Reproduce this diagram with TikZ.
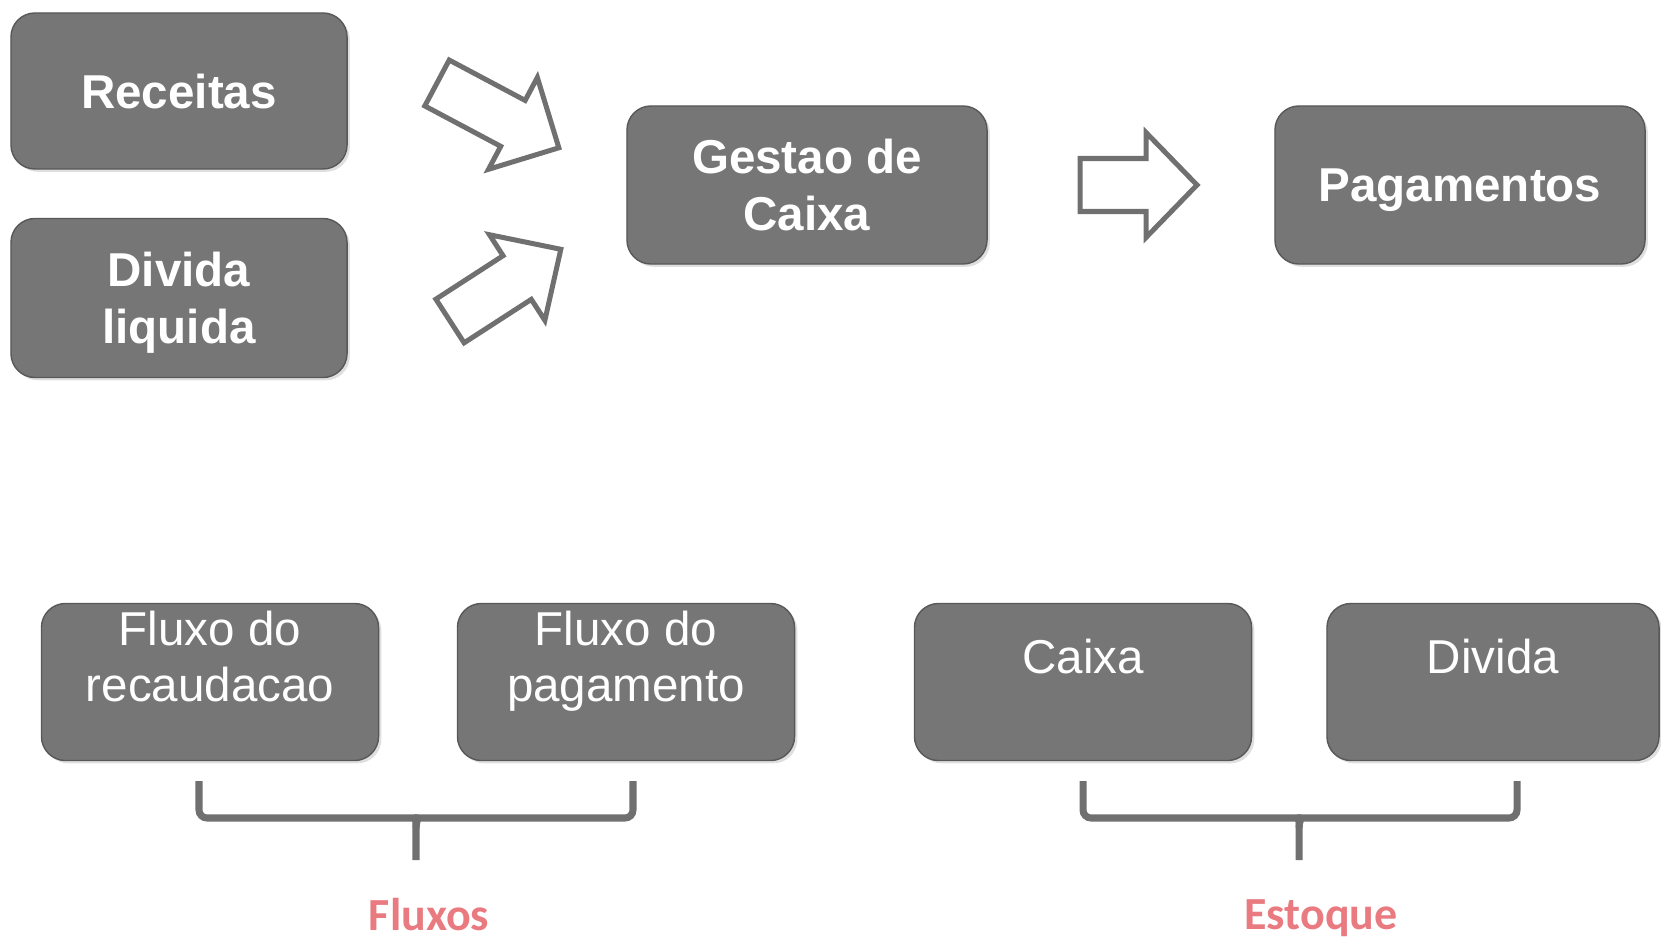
\documentclass[tikz,border=0pt]{standalone}
\usepackage{fontspec}
\setmainfont{Liberation Sans}
\newfontfamily\tagfont{Carlito}
\usetikzlibrary{shadows}

\definecolor{tilegray}{RGB}{118,118,118}
\definecolor{tileedge}{RGB}{88,88,88}
\definecolor{arrowgray}{RGB}{112,112,112}
\definecolor{bracegray}{RGB}{112,112,112}
\definecolor{rosetext}{RGB}{232,122,128}

\tikzset{
  tile/.style={rounded corners=0.6cm, fill=tilegray, draw=tileedge, line width=1pt,
    minimum width=8.4cm, minimum height=3.9cm, text=white, align=center, text depth=0pt,
    font=\fontsize{33.8}{40.5}\selectfont\bfseries,
    drop shadow={shadow xshift=2pt, shadow yshift=-2pt, opacity=0.25}},
  lowtile/.style={tile, minimum width=8.425cm, minimum height=3.925cm},
  tiletext/.style={text=white, align=center, text depth=0pt, font=\fontsize{33.8}{40}\selectfont},
  hollow/.style={draw=arrowgray, fill=white, line width=0.125cm, line join=miter},
  bracket/.style={draw=bracegray, line width=5pt, rounded corners=0.2cm},
  tag/.style={text=rosetext, anchor=base, inner sep=0pt, font=\tagfont\fontsize{32.7}{38}\selectfont\bfseries}
}

\begin{document}
\begin{tikzpicture}[x=0.025cm, y=-0.025cm]
\useasboundingbox (0,0) rectangle (1661,939);

% top row
\node[tile] (rec) at (179,91) {Receitas};
\node[tile, minimum height=3.975cm] (div) at (179,298) {Divida\\liquida};
\node[tile, minimum width=9cm, minimum height=3.95cm] (gest) at (807,185) {Gestao de\\Caixa};
\node[tile, minimum width=9.25cm, minimum height=3.95cm] (pag) at (1460,185) {Pagamentos};

% hollow arrows
\draw[hollow, shift={(437,83)}, rotate=-28]
  (0,-26) -- (86,-26) -- (86,-52) -- (138,0) -- (86,52) -- (86,26) -- (0,26) -- cycle;
\draw[hollow, shift={(450,321)}, rotate=32.9]
  (0,-26) -- (80,-26) -- (80,-51) -- (132,0) -- (80,51) -- (80,26) -- (0,26) -- cycle;
\draw[hollow, shift={(1080,185)}]
  (0,-26.5) -- (66,-26.5) -- (66,-52.5) -- (117,0) -- (66,52.5) -- (66,26.5) -- (0,26.5) -- cycle;

% bottom row
\node[lowtile] (frec) at (210,682) {};
\node[lowtile] (fpag) at (626,682) {};
\node[lowtile] (caixa) at (1083,682) {};
\node[lowtile, minimum width=8.3cm] (divb) at (1493,682) {};

\node[tiletext] (frec-txt) at (210,656) {Fluxo do\\recaudacao};
\node[tiletext] (fpag-txt) at (626,656) {Fluxo do\\pagamento};
\node[tiletext] (caixa-txt) at (1083,656) {Caixa};
\node[tiletext] (divb-txt) at (1493,656) {Divida};

% braces
\coordinate (fl-a) at (199,781);
\coordinate (fl-b) at (633,781);
\coordinate (fl-l) at (406,818);
\coordinate (fl-r) at (426,818);
\coordinate (fl-dip) at (416,828);
\coordinate (fl-end) at (416,860);
\coordinate (es-a) at (1083,781);
\coordinate (es-b) at (1517,781);
\coordinate (es-l) at (1289,818);
\coordinate (es-r) at (1309,818);
\coordinate (es-dip) at (1299,828);
\coordinate (es-end) at (1299,860);

\draw[bracket] (fl-a) |- (fl-l) .. controls (413,818) and (416,821) .. (fl-dip) -- (fl-end);
\draw[bracket] (fl-b) |- (fl-r) .. controls (419,818) and (416,821) .. (fl-dip);
\draw[bracket] (es-a) |- (es-l) .. controls (1296,818) and (1299,821) .. (es-dip) -- (es-end);
\draw[bracket] (es-b) |- (es-r) .. controls (1302,818) and (1299,821) .. (es-dip);

\node[tag] (fluxos) at (429,930) {Fluxos};
\node[tag] (estoque) at (1321,929) {Estoque};
\end{tikzpicture}
\end{document}
